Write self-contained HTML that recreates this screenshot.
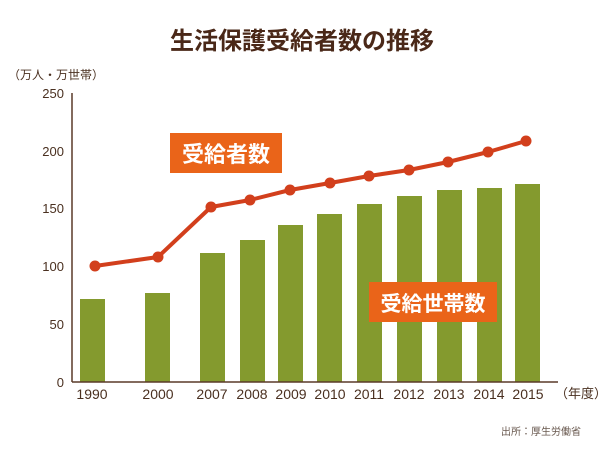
<!DOCTYPE html>
<html><head><meta charset="utf-8"><style>
body{margin:0;background:#fff}
svg text{font-family:"Liberation Sans","Noto Sans CJK JP",sans-serif}
</style></head><body>
<svg width="600" height="450" viewBox="0 0 600 450" xmlns="http://www.w3.org/2000/svg">
<rect width="600" height="450" fill="#fff"/>
<text x="302" y="49" text-anchor="middle" font-size="24" font-weight="bold" fill="#4a2818" style="font-family:'Noto Sans CJK JP',sans-serif">生活保護受給者数の推移</text>
<text x="8" y="79" font-size="12" fill="#4a3020" style="font-family:'Noto Sans CJK JP',sans-serif">（万人・万世帯）</text>
<g font-size="13" fill="#4a3020" text-anchor="end">
<text x="64" y="98">250</text><text x="64" y="156">200</text><text x="64" y="213">150</text>
<text x="64" y="271">100</text><text x="64" y="329">50</text><text x="64" y="387">0</text>
</g>
<g fill="#849a2e">
<rect x="80" y="299" width="25" height="83"/>
<rect x="145" y="293" width="25" height="89"/>
<rect x="200" y="253" width="25" height="129"/>
<rect x="240" y="240" width="25" height="142"/>
<rect x="278" y="225" width="25" height="157"/>
<rect x="317" y="214" width="25" height="168"/>
<rect x="357" y="204" width="25" height="178"/>
<rect x="397" y="196" width="25" height="186"/>
<rect x="437" y="190" width="25" height="192"/>
<rect x="477" y="188" width="25" height="194"/>
<rect x="515" y="184" width="25" height="198"/>
</g>
<line x1="72" y1="93" x2="72" y2="382" stroke="#5a3a28" stroke-width="1.5"/>
<line x1="72" y1="382" x2="558" y2="382" stroke="#5a3a28" stroke-width="1.5"/>
<g font-size="14" fill="#4a3020" text-anchor="middle">
<text x="92" y="399">1990</text><text x="158" y="399">2000</text><text x="212" y="399">2007</text>
<text x="252" y="399">2008</text><text x="291" y="399">2009</text><text x="330" y="399">2010</text>
<text x="369" y="399">2011</text><text x="409" y="399">2012</text><text x="449" y="399">2013</text>
<text x="489" y="399">2014</text><text x="528" y="399">2015</text>
</g>
<text x="555" y="398" font-size="13" fill="#4a3020" style="font-family:'Noto Sans CJK JP',sans-serif">（年度）</text>
<polyline fill="none" stroke="#d23f1c" stroke-width="4" stroke-linejoin="round" points="95,266 158,257 211,207 250,200 290,190 330,183 369,176 409,170 448,162 488,152 526,141"/>
<g fill="#d23f1c">
<circle cx="95" cy="266" r="5.5"/><circle cx="158" cy="257" r="5.5"/><circle cx="211" cy="207" r="5.5"/>
<circle cx="250" cy="200" r="5.5"/><circle cx="290" cy="190" r="5.5"/><circle cx="330" cy="183" r="5.5"/>
<circle cx="369" cy="176" r="5.5"/><circle cx="409" cy="170" r="5.5"/><circle cx="448" cy="162" r="5.5"/>
<circle cx="488" cy="152" r="5.5"/><circle cx="526" cy="141" r="5.5"/>
</g>
<rect x="170" y="133" width="112" height="40" fill="#ea6419"/>
<text x="226" y="162" text-anchor="middle" font-size="22" font-weight="bold" fill="#fff" style="font-family:'Noto Sans CJK JP',sans-serif">受給者数</text>
<rect x="369" y="282" width="128" height="40" fill="#ea6419"/>
<text x="433" y="311" text-anchor="middle" font-size="21" font-weight="bold" fill="#fff" style="font-family:'Noto Sans CJK JP',sans-serif">受給世帯数</text>
<text x="581" y="435" text-anchor="end" font-size="10" fill="#6a5a50" style="font-family:'Noto Sans CJK JP',sans-serif">出所：厚生労働省</text>
</svg>
</body></html>
